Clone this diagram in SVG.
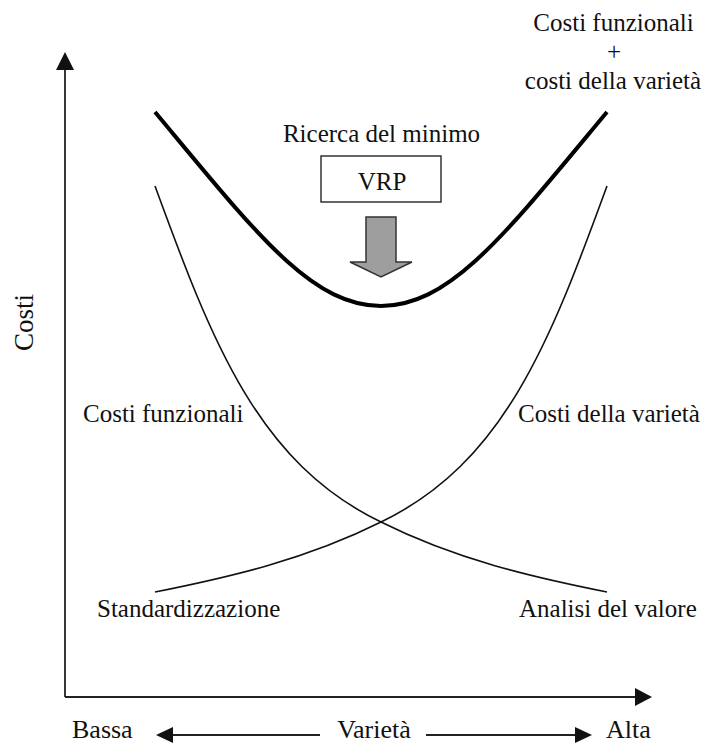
<svg xmlns="http://www.w3.org/2000/svg" width="704" height="745" viewBox="0 0 704 745">
<style>
text{font-family:"Liberation Serif","Times New Roman",serif;font-size:25px;fill:#111}
.axis{stroke:#222;stroke-width:1.8;fill:none}
.head{fill:#111;stroke:none}
.thin{stroke:#111;stroke-width:1.6;fill:none}
.thick{stroke:#000;stroke-width:4;fill:none}
.bottom{font-size:26px}
</style>
<rect width="704" height="745" fill="#fff"/>
<g id="connectors">
<line class="axis" x1="65" y1="697" x2="65" y2="68"/>
<polygon class="head" points="65,52 56,70 74,70"/>
<line class="axis" x1="65" y1="697" x2="637" y2="697"/>
<polygon class="head" points="652,697 635,688 635,706"/>
<line class="axis" x1="171" y1="735" x2="320" y2="735"/>
<polygon class="head" points="156,735 173,727 173,743"/>
<line class="axis" x1="426" y1="735" x2="577" y2="735"/>
<polygon class="head" points="592,735 575,727 575,743"/>
</g>
<g id="curve-total">
<path class="thick" d="M155,112 C255,232 311,306 381,306 C451,306 507,232 607,112"/>
</g>
<g id="curve-funzionali">
<path class="thin" d="M155,186 C212,342 258,463 381,522 C456,559.5 532,577 607,592"/>
</g>
<g id="curve-varieta">
<path class="thin" d="M155,592 C230,577 306,559.5 381,522 C504,463 550,342 607,186"/>
</g>
<g id="vrp">
<rect x="321" y="156" width="120" height="46" fill="#fff" stroke="#333" stroke-width="1.5"/>
<text x="382" y="190" text-anchor="middle">VRP</text>
</g>
<g id="arrow-down">
<polygon points="366,217 396,217 396,262 412,262 381,277 350,262 366,262" fill="#9e9e9e" stroke="#333" stroke-width="1.5"/>
</g>
<g id="labels">
<text x="381.5" y="142" text-anchor="middle">Ricerca del minimo</text>
<text x="613.5" y="31" text-anchor="middle">Costi funzionali</text>
<text x="614" y="60" text-anchor="middle">+</text>
<text x="613" y="89" text-anchor="middle">costi della varietà</text>
<text x="83" y="422">Costi funzionali</text>
<text x="518" y="422">Costi della varietà</text>
<text x="97" y="617">Standardizzazione</text>
<text x="519" y="617">Analisi del valore</text>
<text transform="translate(33,322.5) rotate(-90)" text-anchor="middle" style="font-size:27px">Costi</text>
<text class="bottom" x="72" y="738">Bassa</text>
<text class="bottom" x="374" y="738" text-anchor="middle">Varietà</text>
<text class="bottom" x="606" y="738">Alta</text>
</g>
</svg>
